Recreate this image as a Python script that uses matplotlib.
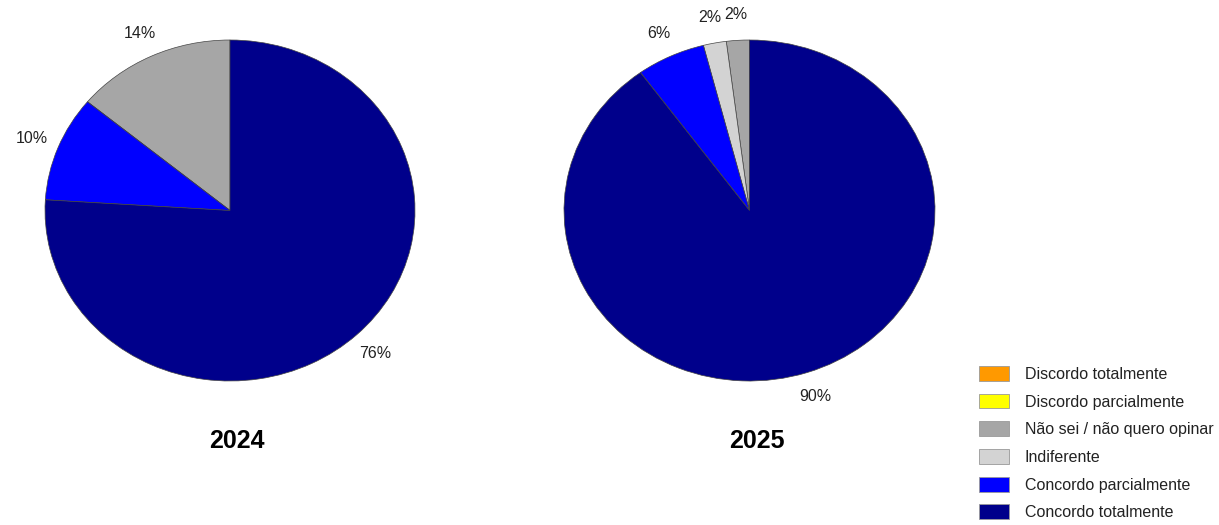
import matplotlib.pyplot as plt
from matplotlib.patches import Patch

plt.rcParams['font.family'] = ['Liberation Sans', 'DejaVu Sans']

# categories in pie order (counterclockwise from the top)
categories = ["Discordo totalmente", "Discordo parcialmente", "Não sei / não quero opinar",
              "Indiferente", "Concordo parcialmente", "Concordo totalmente"]
colors = ["#FF9900", "#FFFF00", "#A6A6A6", "#D3D3D3", "#0000FF", "#00008B"]

years = ["2024", "2025"]
values_2024 = [0, 0, 14, 0, 10, 76]
values_2025 = [0, 0, 2, 2, 6, 90]


def pct_label(p):
    return "%.0f%%" % p if p >= 0.5 else ""


fig = plt.figure(figsize=(12.19, 5.25), dpi=100)

positions = [[45 / 1219, 144 / 525, 370 / 1219, 341 / 525],
             [564 / 1219, 144 / 525, 371 / 1219, 341 / 525]]
title_x = [237 / 1219, 757 / 1219]

for pos, vals, year, tx in zip(positions, [values_2024, values_2025], years, title_x):
    ax = fig.add_axes(pos)
    wedges, texts, autotexts = ax.pie(vals, colors=colors, startangle=90, counterclock=True,
                                      autopct=pct_label, pctdistance=1.15,
                                      wedgeprops=dict(edgecolor="#444444", linewidth=0.5),
                                      textprops=dict(fontsize=11.5, color="#222222"))
    ax.set_aspect("auto")
    ax.set_xlim(-1, 1)
    ax.set_ylim(-1, 1)
    fig.text(tx, 1 - 441 / 525, year, ha="center", va="center", fontsize=18, fontweight="bold")

handles = [Patch(facecolor=c, edgecolor="#999999", linewidth=0.6) for c in colors]
fig.legend(handles, categories, loc="upper left", bbox_to_anchor=(979 / 1219, 1 - 366 / 525),
           frameon=False, fontsize=11.5, handlelength=1.9, handleheight=1.05,
           labelspacing=0.74, handletextpad=0.95, borderpad=0, borderaxespad=0,
           labelcolor="#222222")

fig.savefig("out.png", dpi=100)
